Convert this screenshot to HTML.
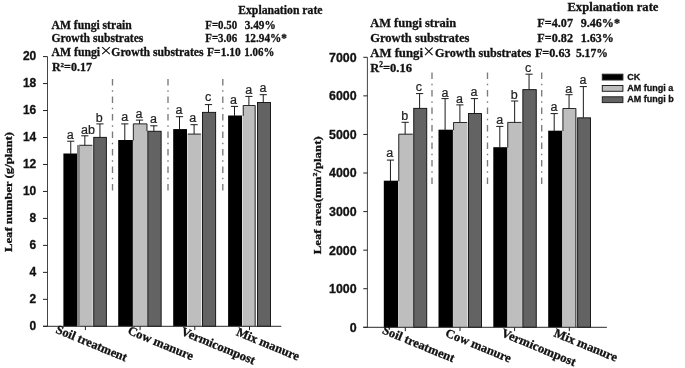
<!DOCTYPE html>
<html><head><meta charset="utf-8"><title>chart</title>
<style>html,body{margin:0;padding:0;background:#fff}svg{display:block;will-change:transform}</style>
</head><body>
<svg width="685" height="368" viewBox="0 0 685 368">
<style>text{stroke:#111;stroke-width:0.3px;paint-order:stroke}text.lt{stroke-width:0.22px;stroke:#222}</style>
<rect width="685" height="368" fill="#fff"/>
<line x1="112.5" y1="79.0" x2="112.5" y2="190.4" stroke="#7a7a7a" stroke-width="1.35" stroke-dasharray="6.5 4.75 1.5 4.75"/>
<line x1="168.0" y1="79.0" x2="168.0" y2="190.4" stroke="#7a7a7a" stroke-width="1.35" stroke-dasharray="6.5 4.75 1.5 4.75"/>
<line x1="222.8" y1="79.0" x2="222.8" y2="190.4" stroke="#7a7a7a" stroke-width="1.35" stroke-dasharray="6.5 4.75 1.5 4.75"/>
<rect x="63.40" y="153.50" width="13.80" height="172.80" fill="#000"/>
<path d="M70.75 153.90V141.20M67.15 141.20H74.35" stroke="#1a1a1a" stroke-width="1" fill="none"/>
<text x="70.20" y="138.60" font-family='"Liberation Sans", sans-serif' font-size="12.5" text-anchor="middle" fill="#222" class="lt">a</text>
<rect x="78.30" y="144.90" width="14.40" height="181.40" fill="#bebebe"/>
<path d="M78.75 153.90V145.30H92.25V145.30" stroke="#1a1a1a" stroke-width="0.9" fill="none"/>
<path d="M84.85 145.30V135.80M81.25 135.80H88.45" stroke="#1a1a1a" stroke-width="1" fill="none"/>
<text x="87.90" y="133.60" font-family='"Liberation Sans", sans-serif' font-size="12.5" text-anchor="middle" fill="#222" class="lt">ab</text>
<rect x="93.75" y="137.35" width="12.60" height="188.95" fill="#636363" stroke="#0a0a0a" stroke-width="0.9"/>
<path d="M99.95 137.30V123.90M96.35 123.90H103.55" stroke="#1a1a1a" stroke-width="1" fill="none"/>
<text x="99.30" y="122.00" font-family='"Liberation Sans", sans-serif' font-size="12.5" text-anchor="middle" fill="#222" class="lt">b</text>
<rect x="118.20" y="140.00" width="14.70" height="186.30" fill="#000"/>
<path d="M124.80 140.40V123.90M121.20 123.90H128.40" stroke="#1a1a1a" stroke-width="1" fill="none"/>
<text x="124.80" y="121.40" font-family='"Liberation Sans", sans-serif' font-size="12.5" text-anchor="middle" fill="#222" class="lt">a</text>
<rect x="132.90" y="123.50" width="14.50" height="202.80" fill="#bebebe"/>
<path d="M133.35 140.40V123.90H146.95V131.20" stroke="#1a1a1a" stroke-width="0.9" fill="none"/>
<path d="M139.50 123.90V120.10M135.90 120.10H143.10" stroke="#1a1a1a" stroke-width="1" fill="none"/>
<text x="139.00" y="117.60" font-family='"Liberation Sans", sans-serif' font-size="12.5" text-anchor="middle" fill="#222" class="lt">a</text>
<rect x="147.85" y="131.25" width="13.30" height="195.05" fill="#636363" stroke="#0a0a0a" stroke-width="0.9"/>
<path d="M153.85 131.20V125.80M150.25 125.80H157.45" stroke="#1a1a1a" stroke-width="1" fill="none"/>
<text x="153.40" y="123.30" font-family='"Liberation Sans", sans-serif' font-size="12.5" text-anchor="middle" fill="#222" class="lt">a</text>
<rect x="173.20" y="129.10" width="13.80" height="197.20" fill="#000"/>
<path d="M179.50 129.50V116.70M175.90 116.70H183.10" stroke="#1a1a1a" stroke-width="1" fill="none"/>
<text x="179.00" y="114.00" font-family='"Liberation Sans", sans-serif' font-size="12.5" text-anchor="middle" fill="#222" class="lt">a</text>
<rect x="187.40" y="133.70" width="13.90" height="192.60" fill="#bebebe"/>
<path d="M187.85 134.10V134.10H200.85V134.10" stroke="#1a1a1a" stroke-width="0.9" fill="none"/>
<path d="M194.10 134.10V124.70M190.50 124.70H197.70" stroke="#1a1a1a" stroke-width="1" fill="none"/>
<text x="192.80" y="122.30" font-family='"Liberation Sans", sans-serif' font-size="12.5" text-anchor="middle" fill="#222" class="lt">a</text>
<rect x="202.45" y="112.35" width="13.20" height="213.95" fill="#636363" stroke="#0a0a0a" stroke-width="0.9"/>
<path d="M208.50 112.30V104.60M204.90 104.60H212.10" stroke="#1a1a1a" stroke-width="1" fill="none"/>
<text x="208.00" y="100.90" font-family='"Liberation Sans", sans-serif' font-size="12.5" text-anchor="middle" fill="#222" class="lt">c</text>
<rect x="228.10" y="115.50" width="14.00" height="210.80" fill="#000"/>
<path d="M234.50 115.90V106.40M230.90 106.40H238.10" stroke="#1a1a1a" stroke-width="1" fill="none"/>
<text x="233.50" y="104.10" font-family='"Liberation Sans", sans-serif' font-size="12.5" text-anchor="middle" fill="#222" class="lt">a</text>
<rect x="242.80" y="105.10" width="12.80" height="221.20" fill="#bebebe"/>
<path d="M243.25 115.90V105.50H255.15V326.30" stroke="#1a1a1a" stroke-width="0.9" fill="none"/>
<path d="M248.90 105.50V96.40M245.30 96.40H252.50" stroke="#1a1a1a" stroke-width="1" fill="none"/>
<text x="248.70" y="93.90" font-family='"Liberation Sans", sans-serif' font-size="12.5" text-anchor="middle" fill="#222" class="lt">a</text>
<rect x="257.45" y="102.45" width="13.00" height="223.85" fill="#636363" stroke="#0a0a0a" stroke-width="0.9"/>
<path d="M263.25 102.40V94.70M259.65 94.70H266.85" stroke="#1a1a1a" stroke-width="1" fill="none"/>
<text x="262.90" y="92.30" font-family='"Liberation Sans", sans-serif' font-size="12.5" text-anchor="middle" fill="#222" class="lt">a</text>
<path d="M47.5 56.6V326.3" stroke="#444" stroke-width="1" fill="none"/>
<path d="M43 326.3H281.3" stroke="#2a2a2a" stroke-width="1" fill="none"/>
<path d="M43 326.30H47.5M43 299.33H47.5M43 272.36H47.5M43 245.39H47.5M43 218.42H47.5M43 191.45H47.5M43 164.48H47.5M43 137.51H47.5M43 110.54H47.5M43 83.57H47.5M43 56.60H47.5M85.4 326.3V330.1M140.1 326.3V330.1M194.8 326.3V330.1M249.5 326.3V330.1" stroke="#222" stroke-width="1" fill="none"/>
<rect x="77.0" y="145.0" width="2.9" height="181.30" fill="#848484"/>
<text x="36.3" y="329.55" font-family='"Liberation Sans", sans-serif' font-weight="bold" font-size="12.0" text-anchor="end" fill="#111">0</text>
<text x="36.3" y="302.58" font-family='"Liberation Sans", sans-serif' font-weight="bold" font-size="12.0" text-anchor="end" fill="#111">2</text>
<text x="36.3" y="275.61" font-family='"Liberation Sans", sans-serif' font-weight="bold" font-size="12.0" text-anchor="end" fill="#111">4</text>
<text x="36.3" y="248.64" font-family='"Liberation Sans", sans-serif' font-weight="bold" font-size="12.0" text-anchor="end" fill="#111">6</text>
<text x="36.3" y="221.67" font-family='"Liberation Sans", sans-serif' font-weight="bold" font-size="12.0" text-anchor="end" fill="#111">8</text>
<text x="36.3" y="194.70" font-family='"Liberation Sans", sans-serif' font-weight="bold" font-size="12.0" text-anchor="end" fill="#111">10</text>
<text x="36.3" y="167.73" font-family='"Liberation Sans", sans-serif' font-weight="bold" font-size="12.0" text-anchor="end" fill="#111">12</text>
<text x="36.3" y="140.76" font-family='"Liberation Sans", sans-serif' font-weight="bold" font-size="12.0" text-anchor="end" fill="#111">14</text>
<text x="36.3" y="113.79" font-family='"Liberation Sans", sans-serif' font-weight="bold" font-size="12.0" text-anchor="end" fill="#111">16</text>
<text x="36.3" y="86.82" font-family='"Liberation Sans", sans-serif' font-weight="bold" font-size="12.0" text-anchor="end" fill="#111">18</text>
<text x="36.3" y="59.85" font-family='"Liberation Sans", sans-serif' font-weight="bold" font-size="12.0" text-anchor="end" fill="#111">20</text>
<line x1="432.0" y1="72.6" x2="432.0" y2="184.0" stroke="#7a7a7a" stroke-width="1.35" stroke-dasharray="6.5 4.75 1.5 4.75"/>
<line x1="487.5" y1="72.6" x2="487.5" y2="184.0" stroke="#7a7a7a" stroke-width="1.35" stroke-dasharray="6.5 4.75 1.5 4.75"/>
<line x1="541.7" y1="72.6" x2="541.7" y2="184.0" stroke="#7a7a7a" stroke-width="1.35" stroke-dasharray="6.5 4.75 1.5 4.75"/>
<rect x="383.80" y="180.70" width="14.30" height="146.60" fill="#000"/>
<path d="M390.45 181.10V160.10M386.85 160.10H394.05" stroke="#1a1a1a" stroke-width="1" fill="none"/>
<text x="389.85" y="157.20" font-family='"Liberation Sans", sans-serif' font-size="12.5" text-anchor="middle" fill="#222" class="lt">a</text>
<rect x="398.30" y="133.80" width="14.80" height="193.50" fill="#bebebe"/>
<path d="M398.75 181.10V134.20H412.65V134.20" stroke="#1a1a1a" stroke-width="0.9" fill="none"/>
<path d="M405.15 134.20V122.30M401.55 122.30H408.75" stroke="#1a1a1a" stroke-width="1" fill="none"/>
<text x="404.85" y="119.80" font-family='"Liberation Sans", sans-serif' font-size="12.5" text-anchor="middle" fill="#222" class="lt">b</text>
<rect x="413.75" y="108.35" width="13.00" height="218.95" fill="#636363" stroke="#0a0a0a" stroke-width="0.9"/>
<path d="M419.60 108.30V93.60M416.00 93.60H423.20" stroke="#1a1a1a" stroke-width="1" fill="none"/>
<text x="418.95" y="91.10" font-family='"Liberation Sans", sans-serif' font-size="12.5" text-anchor="middle" fill="#222" class="lt">c</text>
<rect x="438.50" y="129.70" width="14.40" height="197.60" fill="#000"/>
<path d="M445.10 130.10V98.60M441.50 98.60H448.70" stroke="#1a1a1a" stroke-width="1" fill="none"/>
<text x="445.00" y="96.70" font-family='"Liberation Sans", sans-serif' font-size="12.5" text-anchor="middle" fill="#222" class="lt">a</text>
<rect x="453.10" y="122.10" width="14.40" height="205.20" fill="#bebebe"/>
<path d="M453.55 130.10V122.50H467.05V122.50" stroke="#1a1a1a" stroke-width="0.9" fill="none"/>
<path d="M459.90 122.50V104.90M456.30 104.90H463.50" stroke="#1a1a1a" stroke-width="1" fill="none"/>
<text x="459.50" y="102.70" font-family='"Liberation Sans", sans-serif' font-size="12.5" text-anchor="middle" fill="#222" class="lt">a</text>
<rect x="468.55" y="113.55" width="13.00" height="213.75" fill="#636363" stroke="#0a0a0a" stroke-width="0.9"/>
<path d="M474.45 113.50V98.60M470.85 98.60H478.05" stroke="#1a1a1a" stroke-width="1" fill="none"/>
<text x="473.90" y="96.30" font-family='"Liberation Sans", sans-serif' font-size="12.5" text-anchor="middle" fill="#222" class="lt">a</text>
<rect x="493.30" y="147.20" width="14.20" height="180.10" fill="#000"/>
<path d="M499.80 147.60V126.40M496.20 126.40H503.40" stroke="#1a1a1a" stroke-width="1" fill="none"/>
<text x="499.75" y="123.90" font-family='"Liberation Sans", sans-serif' font-size="12.5" text-anchor="middle" fill="#222" class="lt">a</text>
<rect x="507.30" y="122.00" width="14.60" height="205.30" fill="#bebebe"/>
<path d="M507.75 147.60V122.40H521.45V122.40" stroke="#1a1a1a" stroke-width="0.9" fill="none"/>
<path d="M514.65 122.40V101.00M511.05 101.00H518.25" stroke="#1a1a1a" stroke-width="1" fill="none"/>
<text x="514.15" y="98.50" font-family='"Liberation Sans", sans-serif' font-size="12.5" text-anchor="middle" fill="#222" class="lt">b</text>
<rect x="522.85" y="89.65" width="13.40" height="237.65" fill="#636363" stroke="#0a0a0a" stroke-width="0.9"/>
<path d="M529.05 89.60V74.20M525.45 74.20H532.65" stroke="#1a1a1a" stroke-width="1" fill="none"/>
<text x="528.15" y="71.70" font-family='"Liberation Sans", sans-serif' font-size="12.5" text-anchor="middle" fill="#222" class="lt">c</text>
<rect x="548.20" y="130.70" width="14.10" height="196.60" fill="#000"/>
<path d="M554.20 131.10V113.60M550.60 113.60H557.80" stroke="#1a1a1a" stroke-width="1" fill="none"/>
<text x="554.10" y="110.80" font-family='"Liberation Sans", sans-serif' font-size="12.5" text-anchor="middle" fill="#222" class="lt">a</text>
<rect x="562.50" y="108.10" width="13.80" height="219.20" fill="#bebebe"/>
<path d="M562.95 131.10V108.50H575.85V327.30" stroke="#1a1a1a" stroke-width="0.9" fill="none"/>
<path d="M569.05 108.50V94.70M565.45 94.70H572.65" stroke="#1a1a1a" stroke-width="1" fill="none"/>
<text x="568.80" y="92.60" font-family='"Liberation Sans", sans-serif' font-size="12.5" text-anchor="middle" fill="#222" class="lt">a</text>
<rect x="577.65" y="117.85" width="12.90" height="209.45" fill="#636363" stroke="#0a0a0a" stroke-width="0.9"/>
<path d="M583.35 117.80V86.60M579.75 86.60H586.95" stroke="#1a1a1a" stroke-width="1" fill="none"/>
<text x="583.00" y="83.80" font-family='"Liberation Sans", sans-serif' font-size="12.5" text-anchor="middle" fill="#222" class="lt">a</text>
<path d="M367.4 57.3V327.3" stroke="#444" stroke-width="1" fill="none"/>
<path d="M363.3 327.3H606.9" stroke="#2a2a2a" stroke-width="1" fill="none"/>
<path d="M363.3 327.30H367.4M363.3 288.73H367.4M363.3 250.16H367.4M363.3 211.59H367.4M363.3 173.01H367.4M363.3 134.44H367.4M363.3 95.87H367.4M363.3 57.30H367.4M405.3 327.3V331.1M460.0 327.3V331.1M514.6 327.3V331.1M569.3 327.3V331.1" stroke="#222" stroke-width="1" fill="none"/>
<text x="356.6" y="331.65" font-family='"Liberation Sans", sans-serif' font-weight="bold" font-size="12.4" text-anchor="end" fill="#111">0</text>
<text x="356.6" y="293.08" font-family='"Liberation Sans", sans-serif' font-weight="bold" font-size="12.4" text-anchor="end" fill="#111">1000</text>
<text x="356.6" y="254.51" font-family='"Liberation Sans", sans-serif' font-weight="bold" font-size="12.4" text-anchor="end" fill="#111">2000</text>
<text x="356.6" y="215.94" font-family='"Liberation Sans", sans-serif' font-weight="bold" font-size="12.4" text-anchor="end" fill="#111">3000</text>
<text x="356.6" y="177.36" font-family='"Liberation Sans", sans-serif' font-weight="bold" font-size="12.4" text-anchor="end" fill="#111">4000</text>
<text x="356.6" y="138.79" font-family='"Liberation Sans", sans-serif' font-weight="bold" font-size="12.4" text-anchor="end" fill="#111">5000</text>
<text x="356.6" y="100.22" font-family='"Liberation Sans", sans-serif' font-weight="bold" font-size="12.4" text-anchor="end" fill="#111">6000</text>
<text x="356.6" y="61.65" font-family='"Liberation Sans", sans-serif' font-weight="bold" font-size="12.4" text-anchor="end" fill="#111">7000</text>
<text x="238.2" y="13.6" font-family='"Liberation Serif", serif' font-weight="bold" font-size="12.1" text-anchor="start" fill="#111" textLength="84.3" lengthAdjust="spacingAndGlyphs">Explanation rate</text>
<text x="51.5" y="28.6" font-family='"Liberation Serif", serif' font-weight="bold" font-size="12.1" text-anchor="start" fill="#111" textLength="80.2" lengthAdjust="spacingAndGlyphs">AM fungi strain</text>
<text x="205.3" y="28.6" font-family='"Liberation Serif", serif' font-weight="bold" font-size="12.1" text-anchor="start" fill="#111" textLength="31.8" lengthAdjust="spacingAndGlyphs">F=0.50</text>
<text x="244.7" y="28.6" font-family='"Liberation Serif", serif' font-weight="bold" font-size="12.1" text-anchor="start" fill="#111" textLength="31.1" lengthAdjust="spacingAndGlyphs">3.49%</text>
<text x="51.5" y="41.7" font-family='"Liberation Serif", serif' font-weight="bold" font-size="12.1" text-anchor="start" fill="#111" textLength="91.9" lengthAdjust="spacingAndGlyphs">Growth substrates</text>
<text x="205.3" y="41.7" font-family='"Liberation Serif", serif' font-weight="bold" font-size="12.1" text-anchor="start" fill="#111" textLength="31.8" lengthAdjust="spacingAndGlyphs">F=3.06</text>
<text x="244.7" y="41.7" font-family='"Liberation Serif", serif' font-weight="bold" font-size="12.1" text-anchor="start" fill="#111" textLength="42.3" lengthAdjust="spacingAndGlyphs">12.94%*</text>
<text x="51.5" y="56.0" font-family='"Liberation Serif", serif' font-weight="bold" font-size="12.1" text-anchor="start" fill="#111" textLength="48.6" lengthAdjust="spacingAndGlyphs">AM fungi</text>
<path d="M102.2 47.1 L109.8 54.1 M109.8 47.1 L102.2 54.1" stroke="#111" stroke-width="1.15" fill="none"/>
<text x="111.3" y="56.0" font-family='"Liberation Serif", serif' font-weight="bold" font-size="12.1" text-anchor="start" fill="#111" textLength="92.3" lengthAdjust="spacingAndGlyphs">Growth substrates</text>
<text x="207.1" y="56.0" font-family='"Liberation Serif", serif' font-weight="bold" font-size="12.1" text-anchor="start" fill="#111" textLength="33.7" lengthAdjust="spacingAndGlyphs">F=1.10</text>
<text x="244.3" y="56.0" font-family='"Liberation Serif", serif' font-weight="bold" font-size="12.1" text-anchor="start" fill="#111" textLength="30.0" lengthAdjust="spacingAndGlyphs">1.06%</text>
<text x="51.9" y="70.8" font-family='"Liberation Serif", serif' font-weight="bold" font-size="12" fill="#111">R<tspan font-size="7" dy="-4">2</tspan><tspan dy="4">=0.17</tspan></text>
<text x="567.4" y="10.8" font-family='"Liberation Serif", serif' font-weight="bold" font-size="13.2" text-anchor="start" fill="#111" textLength="91.1" lengthAdjust="spacingAndGlyphs">Explanation rate</text>
<text x="370.2" y="27.0" font-family='"Liberation Serif", serif' font-weight="bold" font-size="13.2" text-anchor="start" fill="#111" textLength="86.0" lengthAdjust="spacingAndGlyphs">AM fungi strain</text>
<text x="537.3" y="26.7" font-family='"Liberation Serif", serif' font-weight="bold" font-size="13.2" text-anchor="start" fill="#111" textLength="35.7" lengthAdjust="spacingAndGlyphs">F=4.07</text>
<text x="580.7" y="26.7" font-family='"Liberation Serif", serif' font-weight="bold" font-size="13.2" text-anchor="start" fill="#111" textLength="39.3" lengthAdjust="spacingAndGlyphs">9.46%*</text>
<text x="370.2" y="41.8" font-family='"Liberation Serif", serif' font-weight="bold" font-size="13.2" text-anchor="start" fill="#111" textLength="99.3" lengthAdjust="spacingAndGlyphs">Growth substrates</text>
<text x="537.3" y="42.1" font-family='"Liberation Serif", serif' font-weight="bold" font-size="13.2" text-anchor="start" fill="#111" textLength="35.7" lengthAdjust="spacingAndGlyphs">F=0.82</text>
<text x="580.7" y="42.1" font-family='"Liberation Serif", serif' font-weight="bold" font-size="13.2" text-anchor="start" fill="#111" textLength="33.2" lengthAdjust="spacingAndGlyphs">1.63%</text>
<text x="370.2" y="56.9" font-family='"Liberation Serif", serif' font-weight="bold" font-size="13.2" text-anchor="start" fill="#111" textLength="52.8" lengthAdjust="spacingAndGlyphs">AM fungi</text>
<path d="M425 47.7 L432.6 55.1 M432.6 47.7 L425 55.1" stroke="#111" stroke-width="1.15" fill="none"/>
<text x="435.0" y="56.9" font-family='"Liberation Serif", serif' font-weight="bold" font-size="13.2" text-anchor="start" fill="#111" textLength="96.3" lengthAdjust="spacingAndGlyphs">Growth substrates</text>
<text x="534.9" y="56.9" font-family='"Liberation Serif", serif' font-weight="bold" font-size="13.2" text-anchor="start" fill="#111" textLength="35.7" lengthAdjust="spacingAndGlyphs">F=0.63</text>
<text x="575.9" y="56.9" font-family='"Liberation Serif", serif' font-weight="bold" font-size="13.2" text-anchor="start" fill="#111" textLength="32.0" lengthAdjust="spacingAndGlyphs">5.17%</text>
<text x="370.2" y="71.5" font-family='"Liberation Serif", serif' font-weight="bold" font-size="13.2" fill="#111" textLength="41.8" lengthAdjust="spacingAndGlyphs">R<tspan font-size="7.8" dy="-4.6">2</tspan><tspan dy="4.6">=0.16</tspan></text>
<text transform="translate(12.0 192.0) rotate(-90)" font-family='"Liberation Serif", serif' font-weight="bold" font-size="10.9" text-anchor="middle" fill="#111" textLength="120" lengthAdjust="spacingAndGlyphs">Leaf number (g/plant)</text>
<text transform="translate(321.0 195.3) rotate(-90)" font-family='"Liberation Serif", serif' font-weight="bold" font-size="11.3" text-anchor="middle" fill="#111" textLength="118.0" lengthAdjust="spacingAndGlyphs">Leaf area(mm<tspan font-size="7" dy="-4">2</tspan><tspan dy="4">/plant)</tspan></text>
<text transform="translate(55.1 332.5) rotate(22.5)" font-family='"Liberation Serif", serif' font-weight="bold" font-size="12.5" fill="#111">Soil treatment</text>
<text transform="translate(126.9 333.6) rotate(22.5)" font-family='"Liberation Serif", serif' font-weight="bold" font-size="12.5" fill="#111" textLength="69.9" lengthAdjust="spacingAndGlyphs">Cow manure</text>
<text transform="translate(180.3 334.4) rotate(22.5)" font-family='"Liberation Serif", serif' font-weight="bold" font-size="12.5" fill="#111" textLength="79.0" lengthAdjust="spacingAndGlyphs">Vermicompost</text>
<text transform="translate(235.5 335.0) rotate(22.5)" font-family='"Liberation Serif", serif' font-weight="bold" font-size="12.5" fill="#111" textLength="67.0" lengthAdjust="spacingAndGlyphs">Mix manure</text>
<text transform="translate(381.6 333.0) rotate(22.5)" font-family='"Liberation Serif", serif' font-weight="bold" font-size="12.5" fill="#111" textLength="76.9" lengthAdjust="spacingAndGlyphs">Soil treatment</text>
<text transform="translate(444.6 335.9) rotate(22.5)" font-family='"Liberation Serif", serif' font-weight="bold" font-size="12.5" fill="#111" textLength="69.8" lengthAdjust="spacingAndGlyphs">Cow manure</text>
<text transform="translate(500.5 335.9) rotate(22.5)" font-family='"Liberation Serif", serif' font-weight="bold" font-size="12.5" fill="#111" textLength="79.4" lengthAdjust="spacingAndGlyphs">Vermicompost</text>
<text transform="translate(553.1 336.0) rotate(22.5)" font-family='"Liberation Serif", serif' font-weight="bold" font-size="12.5" fill="#111" textLength="67.4" lengthAdjust="spacingAndGlyphs">Mix manure</text>
<rect x="602.3" y="74.20" width="20.6" height="5.8" fill="#000" stroke="#222" stroke-width="1"/>
<text x="627.2" y="79.60" font-family='"Liberation Sans", sans-serif' font-weight="bold" font-size="9" fill="#111">CK</text>
<rect x="602.3" y="85.50" width="20.6" height="5.8" fill="#bdbdbd" stroke="#222" stroke-width="1"/>
<text x="627.2" y="90.50" font-family='"Liberation Sans", sans-serif' font-weight="bold" font-size="9" fill="#111">AM fungi a</text>
<rect x="602.3" y="96.80" width="20.6" height="5.8" fill="#636363" stroke="#222" stroke-width="1"/>
<text x="627.2" y="101.90" font-family='"Liberation Sans", sans-serif' font-weight="bold" font-size="9" fill="#111">AM fungi b</text>
</svg>
</body></html>
